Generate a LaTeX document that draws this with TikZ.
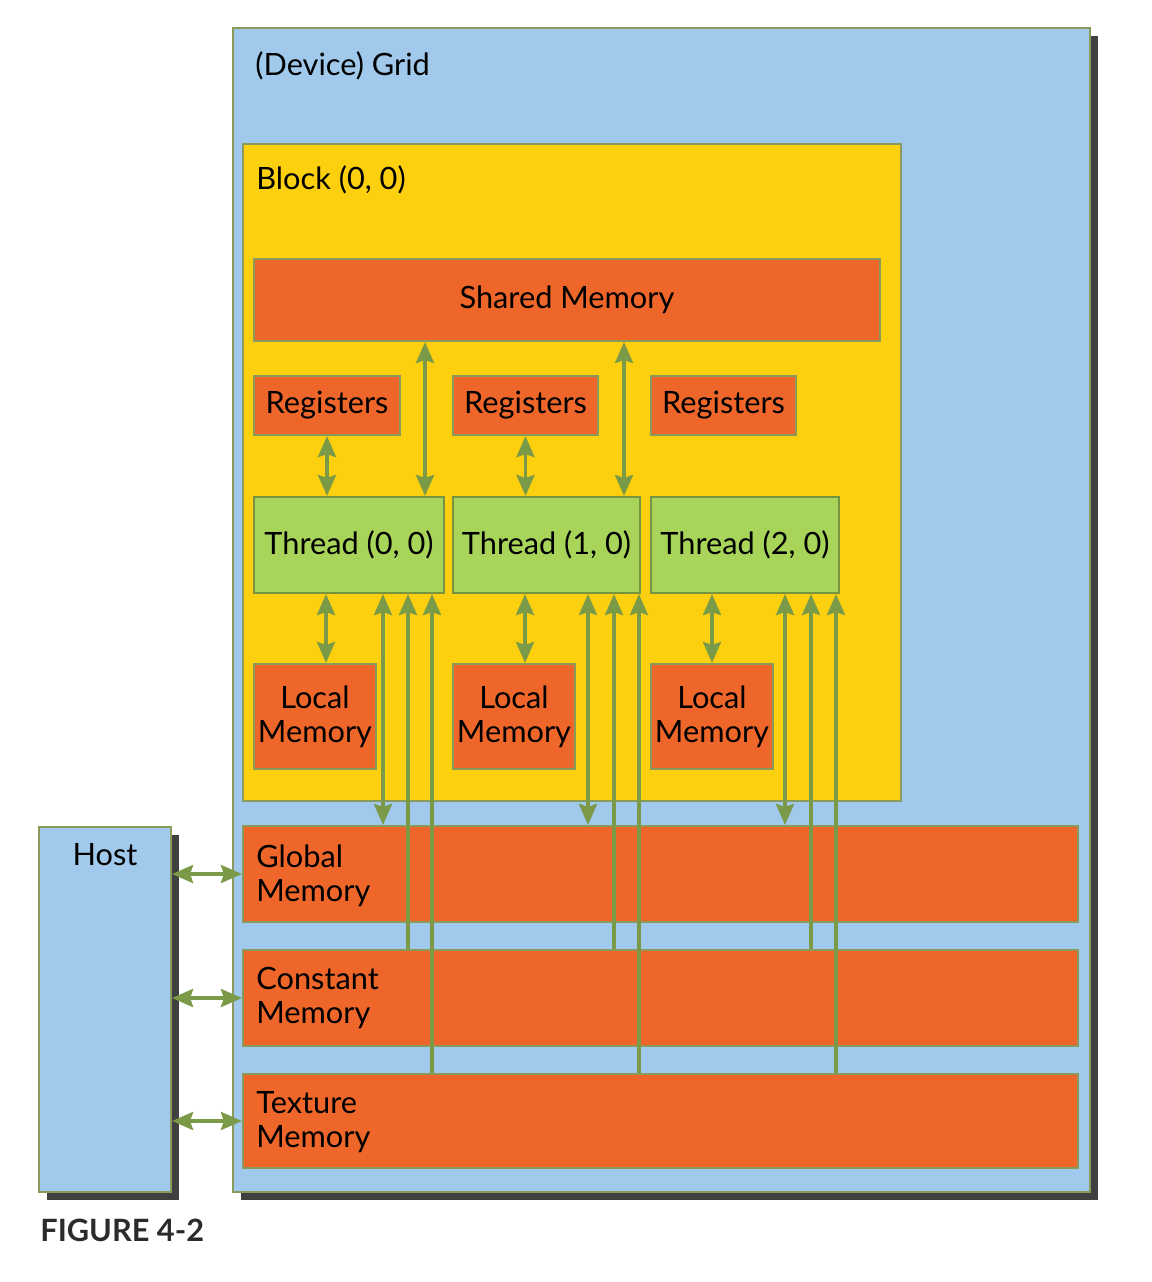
\documentclass[tikz,border=0pt]{standalone}
\usepackage{fontspec}
\setmainfont{Lato}
\usetikzlibrary{fit,arrows.meta,shadows}
\definecolor{gridblue}{HTML}{A0C9EB}
\definecolor{blockyellow}{HTML}{FDD00F}
\definecolor{memorange}{HTML}{EE6629}
\definecolor{threadgreen}{HTML}{A8D45A}
\definecolor{edgeolive}{HTML}{8A9A5B}
\definecolor{linkgreen}{HTML}{7A9A48}
\definecolor{shadowgray}{HTML}{404040}
\definecolor{captiongray}{HTML}{2B2B2B}
\tikzset{
  every node/.style={font=\fontsize{17.5}{19.4}\selectfont},
  box/.style={draw=edgeolive, line width=1.2pt, inner sep=0pt},
  dropped/.style={drop shadow={shadow xshift=0.16cm, shadow yshift=-0.16cm, fill=shadowgray, opacity=1}},
  membox/.style={box, fill=memorange},
  threadbox/.style={box, fill=threadgreen, draw=threadgreen!70!black},
  inside/.style={label={[align=center]center:#1}},
  link/.style={draw=linkgreen, line width=2pt},
  both/.style={link, {Stealth[length=0.42cm,width=0.36cm,inset=0.06cm]}-{Stealth[length=0.42cm,width=0.36cm,inset=0.06cm]}},
  up/.style={link, -{Stealth[length=0.42cm,width=0.36cm,inset=0.06cm]}},
  title/.style={anchor=base west, inner sep=0pt},
  memtext/.style={anchor=north west, align=left, inner sep=0pt}
}
\begin{document}
\begin{tikzpicture}[x=0.02cm, y=-0.02cm]
\useasboundingbox (0,0) rectangle (1152,1282);
% device side
\node[box, fill=gridblue, dropped, fit={(233,28) (1090,1192)}] (grid) {};
\node[title] (gridtitle) at (255,75) {(Device) Grid};
\node[box, fill=blockyellow, fit={(243,144) (901,801)}] (block) {};
\node[title] (blocktitle) at (256,189) {Block (0, 0)};
\node[membox, fit={(254,259) (880,341)}, inside={Shared Memory}] (shared) {};
% registers, threads and local memory
\node[membox, fit={(254,376) (400,435)}, inside=Registers] (reg0) {};
\node[membox, fit={(453,376) (598,435)}, inside=Registers] (reg1) {};
\node[membox, fit={(651,376) (796,435)}, inside=Registers] (reg2) {};
\node[threadbox, fit={(254,497) (444,593)}, inside={Thread (0, 0)}] (th0) {};
\node[threadbox, fit={(453,497) (640,593)}, inside={Thread (1, 0)}] (th1) {};
\node[threadbox, fit={(651,497) (839,593)}, inside={Thread (2, 0)}] (th2) {};
\node[membox, fit={(254,664) (376,769)}, inside={Local\\Memory}] (loc0) {};
\node[membox, fit={(453,664) (575,769)}, inside={Local\\Memory}] (loc1) {};
\node[membox, fit={(651,664) (773,769)}, inside={Local\\Memory}] (loc2) {};
% memories of the whole grid
\node[membox, fit={(243,826) (1078,922)}] (global) {};
\node[memtext] at (256,844) {Global\\Memory};
\node[membox, fit={(243,950) (1078,1046)}] (constant) {};
\node[memtext] at (256,967) {Constant\\Memory};
\node[membox, fit={(243,1074) (1078,1168)}] (texture) {};
\node[memtext] at (256,1091) {Texture\\Memory};
% host
\node[box, fill=gridblue, dropped, fit={(39,827) (171,1192)}] (host) {};
\node[anchor=base] (hosttitle) at (105,865) {Host};
\node[title, font=\fontsize{17.5}{20}\selectfont\bfseries, text=captiongray] (caption) at (40,1241) {FIGURE 4-2};
% connectors
\draw[both] (reg0) -- (reg0 |- th0.north);
\draw[both] (reg1) -- (reg1 |- th1.north);
\draw[both] (425,0 |- shared.south) -- (425,0 |- th0.north);
\draw[both] (624,0 |- shared.south) -- (624,0 |- th1.north);
\draw[both] (326,0 |- th0.south) -- (326,0 |- loc0.north);
\draw[both] (525,0 |- th1.south) -- (525,0 |- loc1.north);
\draw[both] (712,0 |- th2.south) -- (712,0 |- loc2.north);
\foreach \g/\c/\t/\n in {383/408/432/th0, 588/614/639/th1, 785/811/836/th2}{
  \draw[both] (\g,0 |- \n.south) -- (\g,0 |- global.north);
  \draw[up] (\c,0 |- constant.north) -- (\c,0 |- \n.south);
  \draw[up] (\t,0 |- texture.north) -- (\t,0 |- \n.south);
}
\draw[both] (host.east |- global.west) -- (global.west);
\draw[both] (host.east |- constant.west) -- (constant.west);
\draw[both] (host.east |- texture.west) -- (texture.west);
\end{tikzpicture}
\end{document}
